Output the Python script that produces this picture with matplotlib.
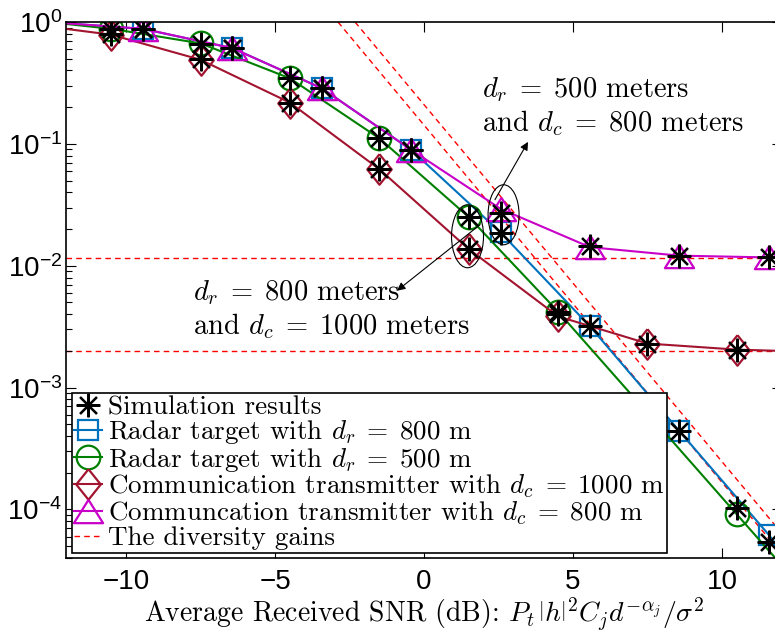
import matplotlib.pyplot as plt
import matplotlib.transforms as mtransforms
from matplotlib.lines import Line2D
from matplotlib.patches import Ellipse

plt.rcParams["font.family"] = "Liberation Sans"
plt.rcParams["mathtext.fontset"] = "custom"
plt.rcParams["mathtext.rm"] = "Liberation Sans"
plt.rcParams["mathtext.it"] = "Liberation Sans:italic"
plt.rcParams["mathtext.bf"] = "Liberation Sans:bold"

# SNR grids (dB); first/last entries only extend the curves to the frame
snr_a = [-12, -10.5, -7.5, -4.5, -1.5, 1.5, 4.5, 7.5, 10.5, 12]
snr_b = [-12, -9.43, -6.43, -3.43, -0.43, 2.57, 5.57, 8.57, 11.57, 12]

# analytical miss probabilities
radar_800 = [0.975, 0.877, 0.61, 0.286, 0.0893, 0.01875, 0.00318, 4.4e-4, 6.2e-5, 4.5e-5]
radar_500 = [0.963, 0.88, 0.668, 0.345, 0.111, 0.0251, 0.0042, 6.2e-4, 9.1e-5, 3.5e-5]
comm_1000 = [0.877, 0.787, 0.49, 0.218, 0.062, 0.0137, 0.00384, 0.0023, 0.00205, 0.0020]
comm_800 = [0.975, 0.88, 0.61, 0.286, 0.0893, 0.0293, 0.0142, 0.0121, 0.0117, 0.0117]

# Monte-Carlo results at the marker positions
sim_radar_800 = [0.877, 0.61, 0.286, 0.0893, 0.0187, 0.0032, 4.4e-4, 5.4e-5]
sim_radar_500 = [0.88, 0.66, 0.345, 0.111, 0.0251, 0.0042, 6.2e-4, 1.03e-4]
sim_comm_1000 = [0.79, 0.50, 0.218, 0.062, 0.0137, 0.0040, 0.0023, 0.00205]
sim_comm_800 = [0.88, 0.61, 0.286, 0.0893, 0.0271, 0.0145, 0.0121, 0.0117]

# diversity-gain asymptotes (two points on each sloped line)
floor_800 = 0.0116
floor_1000 = 0.0020
slope_x1 = [-2.886, 11.74]
slope_y1 = [1.0, 5.16e-5]
slope_x2 = [-2.315, 12.32]
slope_y2 = [1.0, 5.16e-5]

blue = "#0072BD"
green = "#008000"
dred = "#A2142F"
mag = "#C800C8"

diamond = [(0, 1), (0.8, 0), (0, -1), (-0.8, 0), (0, 1)]
triangle = [(0, 0.8), (1, -0.8), (-1, -0.8), (0, 0.8)]

fig = plt.figure(figsize=(7.75, 6.32), dpi=100)
ax = fig.add_axes([0.0857, 0.1171, 0.9228, 0.8481])
ax.set_yscale("log")

inner = slice(1, -1)
kw = dict(lw=1.5, mew=1.6, mfc="none")
h_b, = ax.plot(snr_b, radar_800, color=blue, marker="s", ms=14, markevery=inner, **kw)
h_g, = ax.plot(snr_a, radar_500, color=green, marker="o", ms=17, markevery=inner, **kw)
h_r, = ax.plot(snr_a, comm_1000, color=dred, marker=diamond, ms=22, markevery=inner, **kw)
h_m, = ax.plot(snr_b, comm_800, color=mag, marker=triangle, ms=21, markevery=inner, **kw)

star = dict(ls="none", marker=(8, 2, 0), ms=17, mew=1.6, color="black", zorder=4)
h_s, = ax.plot(snr_b[inner], sim_radar_800, **star)
ax.plot(snr_a[inner], sim_radar_500, **star)
ax.plot(snr_a[inner], sim_comm_1000, **star)
ax.plot(snr_b[inner], sim_comm_800, **star)

dash = dict(color="red", lw=1.0, dashes=(4, 3), zorder=1.5)
h_d = ax.axhline(floor_800, **dash)
ax.axhline(floor_1000, **dash)
for xs, ys in ((slope_x1, slope_y1), (slope_x2, slope_y2)):
    ax.axline((xs[0], ys[0]), (xs[1], ys[1]), **dash)

ax.set_xlim(-12, 12)
ax.set_ylim(4e-5, 1)
ax.set_xticks([-10, -5, 0, 5, 10])
ax.tick_params(which="both", direction="in", top=True, right=True, labelsize=20)
ax.tick_params(which="major", length=7, width=0.8)
ax.tick_params(which="minor", length=4, width=0.8)
ax.tick_params(axis="x", pad=8)
ax.tick_params(axis="y", pad=3)
for s in ax.spines.values():
    s.set_linewidth(1.2)

serif = dict(family="cmr10", math_fontfamily="cm")

ax.set_xlabel(r"Average Received SNR (dB): $P_t\,\left|h\right|^2 C_j d^{-\alpha_j}/\sigma^2$",
              fontsize=20, labelpad=0, **serif)

# group markers with ellipses
for cx, cy, w, h in ((1.46, 0.01746, 0.32, 0.63), (2.67, 0.0262, 0.31, 0.60)):
    tr = fig.dpi_scale_trans + mtransforms.ScaledTranslation(cx, cy, ax.transData)
    ax.add_patch(Ellipse((0, 0), w, h, transform=tr, fill=False, ec="black", lw=0.8, zorder=5))

arrow = dict(arrowstyle="-|>", color="black", lw=0.8, mutation_scale=12, shrinkA=0, shrinkB=0)
ax.annotate("", xy=(3.49, 0.1038), xytext=(2.38, 0.0348), arrowprops=arrow, zorder=5)
ax.annotate("", xy=(-0.906, 0.00624), xytext=(1.88, 0.0217), arrowprops=arrow, zorder=5)

ax.text(1.95, 0.203, "$d_r \\;=\\; 500$ meters\nand $d_c \\;=\\; 800$ meters", fontsize=20.5,
        ha="left", va="center", **serif)
ax.text(-7.75, 0.00436, "$d_r \\;=\\; 800$ meters\nand $d_c \\;=\\; 1000$ meters", fontsize=20.5,
        ha="left", va="center", **serif)

handles = [h_s, h_b, h_g, h_r, h_m, Line2D([], [], **dash)]
labels = ["Simulation results",
          r"Radar target with $d_r \;=\; 800$ m",
          r"Radar target with $d_r \;=\; 500$ m",
          r"Communication transmitter with $d_c \;=\; 1000$ m",
          r"Communcation transmitter with $d_c \;=\; 800$ m",
          "The diversity gains"]
leg = ax.legend(handles, labels, loc="lower left", prop={"family": "cmr10", "size": 19.5},
                labelspacing=-0.03, handlelength=1.05, handletextpad=0.2, borderpad=0.08,
                borderaxespad=0.2, fancybox=False, edgecolor="black", framealpha=1,
                numpoints=1)
leg.get_frame().set_linewidth(1.2)
leg.set_zorder(10)
for t in leg.get_texts():
    t.set_math_fontfamily("cm")

fig.savefig("out.png", dpi=100)
